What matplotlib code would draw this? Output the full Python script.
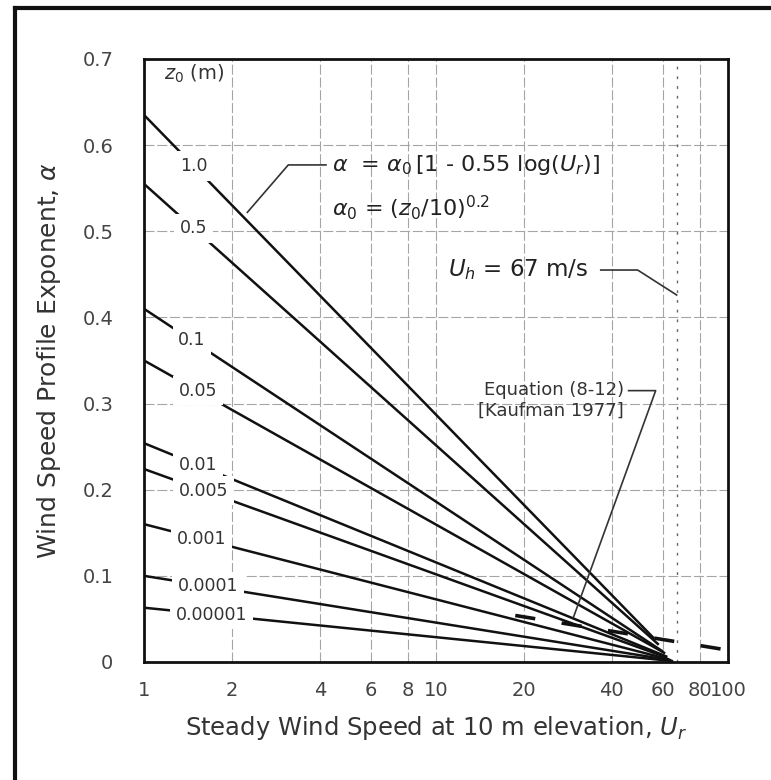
import matplotlib
matplotlib.use("Agg")
import matplotlib.pyplot as plt
import numpy as np
from matplotlib.lines import Line2D

plt.rcParams['font.family'] = ['DejaVu Sans']
plt.rcParams['mathtext.fontset'] = 'dejavusans'

# ---- data ----
z0_labels = ['1.0', '0.5', '0.1', '0.05', '0.01', '0.005', '0.001', '0.0001', '0.00001']
u_start = [1, 1, 1, 1, 1, 1, 1, 1, 1]
alpha_start = [0.635, 0.555, 0.41, 0.35, 0.254, 0.224, 0.16, 0.10, 0.063]
u_end = [56, 58, 60, 61, 62, 62, 63, 64, 65]
alpha_end = [0.027, 0.020, 0.012, 0.010, 0.006, 0.005, 0.003, 0.002, 0.001]
label_u = [1.48, 1.48, 1.46, 1.53, 1.53, 1.6, 1.57, 1.66, 1.7]

kaufman_u = [18.7, 95]
kaufman_alpha = [0.054, 0.015]

u_h = 67

xticks = [1, 2, 4, 6, 8, 10, 20, 40, 60, 80, 100]
xtick_labels = ['1', '2', '4', '6', '8', '10', '20', '40', '60', '80', '100']
yticks = [0, 0.1, 0.2, 0.3, 0.4, 0.5, 0.6, 0.7]
ytick_labels = ['0', '0.1', '0.2', '0.3', '0.4', '0.5', '0.6', '0.7']

fig = plt.figure(figsize=(7.71, 7.80), dpi=100)
ax = fig.add_axes([0.1868, 0.1513, 0.7572, 0.7731])

ax.set_xscale('log')
ax.set_xlim(1, 100)
ax.set_ylim(0, 0.7)

# grid
for xv in [2, 4, 6, 8, 10, 20, 40, 60, 80]:
    ax.axvline(xv, color='#a5a5a5', lw=0.8, ls=(0, (9, 2.5)), zorder=1)
for yv in [0.1, 0.2, 0.3, 0.4, 0.5, 0.6]:
    ax.axhline(yv, color='#a5a5a5', lw=0.8, ls=(0, (9, 2.5)), zorder=1)
ax.axvline(u_h, color='#666666', lw=1.0, ls=(0, (2, 5)), zorder=1)

# formula lines
for lab, us, a0, ue, ae, lu in zip(z0_labels, u_start, alpha_start, u_end, alpha_end, label_u):
    ax.plot([us, ue], [a0, ae], color='#111111', lw=1.8, solid_capstyle='butt', zorder=3)
    ly = np.interp(np.log10(lu), [np.log10(us), np.log10(ue)], [a0, ae])
    ax.text(lu, ly, lab, ha='center', va='center', fontsize=12.5, color='#333333', zorder=5,
            bbox=dict(facecolor='white', edgecolor='none', pad=4.0))

# Kaufman dashed line
ax.plot(kaufman_u, kaufman_alpha, color='#111111', lw=2.6, ls=(0, (5.6, 7.4)), zorder=3)

# annotations
ax.text(1.17, 0.683, r'$z_0$ (m)', fontsize=14, color='#333333', ha='left', va='center', zorder=5)

ax.text(4.4, 0.577, r'$\alpha$  = $\alpha_0\,$[1 - 0.55 log($U_r$)]', fontsize=16,
        color='#222222', ha='left', va='center', zorder=5)
ax.text(4.4, 0.527, r'$\alpha_0$ = ($z_0$/10)$^{0.2}$', fontsize=16,
        color='#222222', ha='left', va='center', zorder=5)
ax.plot([4.2, 3.12, 2.26], [0.577, 0.577, 0.522], color='#333333', lw=1.2, zorder=4)

ax.text(11.0, 0.455, r'$U_h$ = 67 m/s', fontsize=16.5, color='#222222', ha='left', va='center', zorder=5)
ax.plot([36.7, 49.1, 66.8], [0.455, 0.455, 0.426], color='#333333', lw=1.2, zorder=4)

ax.text(44, 0.316, 'Equation (8-12)', fontsize=13, color='#333333', ha='right', va='center', zorder=5)
ax.text(44, 0.292, '[Kaufman 1977]', fontsize=13, color='#333333', ha='right', va='center', zorder=5)
ax.plot([45.7, 56.6, 29.6], [0.315, 0.315, 0.052], color='#333333', lw=1.2, zorder=4)

# axes styling
ax.set_xticks(xticks)
ax.set_xticklabels(xtick_labels)
ax.xaxis.set_minor_locator(matplotlib.ticker.NullLocator())
ax.set_yticks(yticks)
ax.set_yticklabels(ytick_labels)
ax.tick_params(axis='both', length=0, labelsize=14, labelcolor='#444444')
ax.tick_params(axis='y', pad=22)
ax.tick_params(axis='x', pad=14)
for s in ax.spines.values():
    s.set_linewidth(2.0)
    s.set_color('#111111')

ax.set_xlabel(r'Steady Wind Speed at 10 m elevation, $U_r$', fontsize=17.5, color='#333333', labelpad=10)
ax.set_ylabel(r'Wind Speed Profile Exponent, $\alpha$', fontsize=18, color='#333333', labelpad=14)

# outer frame (top and left edges of the scanned box)
fig.add_artist(Line2D([0.019, 1.0], [0.99, 0.99], transform=fig.transFigure, color='#111111', lw=3))
fig.add_artist(Line2D([0.019, 0.019], [0.0, 0.99], transform=fig.transFigure, color='#111111', lw=3))

fig.savefig('out.png', dpi=100)
